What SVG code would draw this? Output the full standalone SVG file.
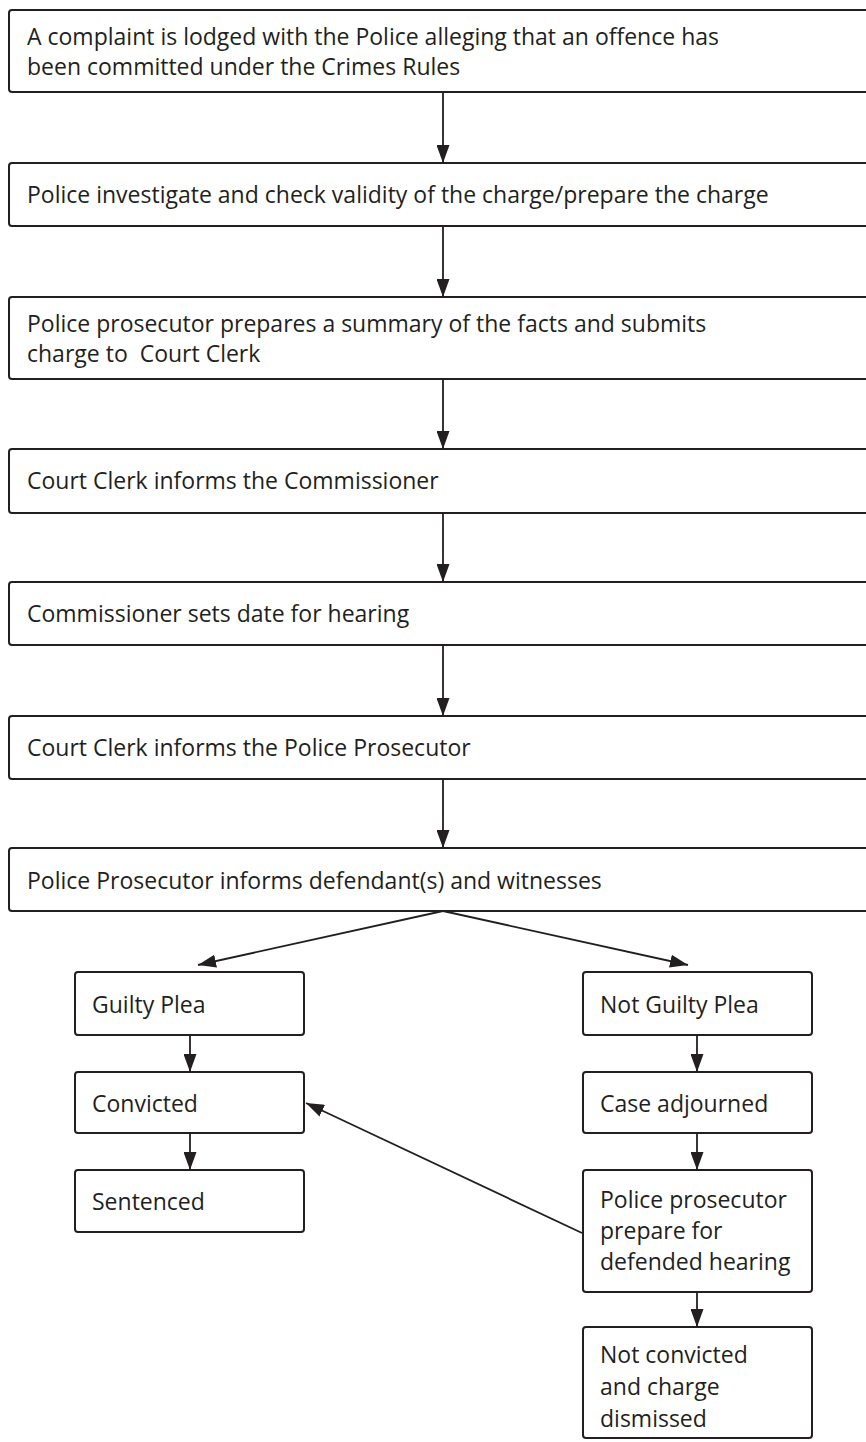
<svg xmlns="http://www.w3.org/2000/svg" width="866" height="1442" viewBox="0 0 866 1442">
  <style>
    .box { fill: #ffffff; stroke: #231f20; stroke-width: 2; }
    .lbl { font-family: "Open Sans", "Liberation Sans", sans-serif; font-size: 23px; fill: #231f20; }
    .link { stroke: #231f20; stroke-width: 1.8; fill: none; marker-end: url(#ah); }
  </style>
  <defs>
    <marker id="ah" viewBox="0 0 18 13" refX="18" refY="6.5" markerWidth="18" markerHeight="13" markerUnits="userSpaceOnUse" orient="auto">
      <path d="M0,0 L18,6.5 L0,13 z" fill="#231f20"/>
    </marker>
  </defs>
  <rect width="866" height="1442" fill="#ffffff"/>

  <!-- main process chain -->
  <g id="complaint">
    <rect class="box" x="9" y="10" width="880" height="82" rx="3"/>
    <text class="lbl" x="27" y="45">A complaint is lodged with the Police alleging that an offence has</text>
    <text class="lbl" x="27" y="75">been committed under the Crimes Rules</text>
  </g>
  <g id="investigate">
    <rect class="box" x="9" y="163" width="880" height="63" rx="3"/>
    <text class="lbl" x="27" y="203">Police investigate and check validity of the charge/prepare the charge</text>
  </g>
  <g id="summary">
    <rect class="box" x="9" y="297" width="880" height="82" rx="3"/>
    <text class="lbl" x="27" y="332">Police prosecutor prepares a summary of the facts and submits</text>
    <text class="lbl" x="27" y="362" xml:space="preserve">charge to  Court Clerk</text>
  </g>
  <g id="clerk-commissioner">
    <rect class="box" x="9" y="449" width="880" height="64" rx="3"/>
    <text class="lbl" x="27" y="489">Court Clerk informs the Commissioner</text>
  </g>
  <g id="hearing-date">
    <rect class="box" x="9" y="582" width="880" height="63" rx="3"/>
    <text class="lbl" x="27" y="622">Commissioner sets date for hearing</text>
  </g>
  <g id="clerk-prosecutor">
    <rect class="box" x="9" y="716" width="880" height="63" rx="3"/>
    <text class="lbl" x="27" y="756">Court Clerk informs the Police Prosecutor</text>
  </g>
  <g id="inform-defendants">
    <rect class="box" x="9" y="848" width="880" height="63" rx="3"/>
    <text class="lbl" x="27" y="889">Police Prosecutor informs defendant(s) and witnesses</text>
  </g>

  <!-- guilty branch -->
  <g id="guilty-plea">
    <rect class="box" x="75" y="972" width="229" height="63" rx="3"/>
    <text class="lbl" x="92" y="1013">Guilty Plea</text>
  </g>
  <g id="convicted">
    <rect class="box" x="75" y="1072" width="229" height="61" rx="3"/>
    <text class="lbl" x="92" y="1112">Convicted</text>
  </g>
  <g id="sentenced">
    <rect class="box" x="75" y="1170" width="229" height="62" rx="3"/>
    <text class="lbl" x="92" y="1210">Sentenced</text>
  </g>

  <!-- not guilty branch -->
  <g id="not-guilty-plea">
    <rect class="box" x="583" y="972" width="229" height="63" rx="3"/>
    <text class="lbl" x="600" y="1013">Not Guilty Plea</text>
  </g>
  <g id="adjourned">
    <rect class="box" x="583" y="1072" width="229" height="61" rx="3"/>
    <text class="lbl" x="600" y="1112">Case adjourned</text>
  </g>
  <g id="defended-hearing">
    <rect class="box" x="583" y="1170" width="229" height="122" rx="3"/>
    <text class="lbl" x="600" y="1208">Police prosecutor</text>
    <text class="lbl" x="600" y="1239">prepare for</text>
    <text class="lbl" x="600" y="1270">defended hearing</text>
  </g>
  <g id="dismissed">
    <rect class="box" x="583" y="1327" width="229" height="111" rx="3"/>
    <text class="lbl" x="600" y="1363">Not convicted</text>
    <text class="lbl" x="600" y="1395">and charge</text>
    <text class="lbl" x="600" y="1427">dismissed</text>
  </g>

  <!-- connectors -->
  <g id="connectors">
    <line class="link" x1="443" y1="92" x2="443" y2="163"/>
    <line class="link" x1="443" y1="226" x2="443" y2="297"/>
    <line class="link" x1="443" y1="379" x2="443" y2="449"/>
    <line class="link" x1="443" y1="513" x2="443" y2="582"/>
    <line class="link" x1="443" y1="645" x2="443" y2="716"/>
    <line class="link" x1="443" y1="779" x2="443" y2="848"/>
    <line class="link" x1="443" y1="911" x2="198" y2="965"/>
    <line class="link" x1="443" y1="911" x2="688" y2="965"/>
    <line class="link" x1="190" y1="1035" x2="190" y2="1072"/>
    <line class="link" x1="190" y1="1133" x2="190" y2="1170"/>
    <line class="link" x1="697" y1="1035" x2="697" y2="1072"/>
    <line class="link" x1="697" y1="1133" x2="697" y2="1170"/>
    <line class="link" x1="697" y1="1292" x2="697" y2="1327"/>
    <line class="link" x1="582" y1="1233" x2="306" y2="1103"/>
  </g>
</svg>
